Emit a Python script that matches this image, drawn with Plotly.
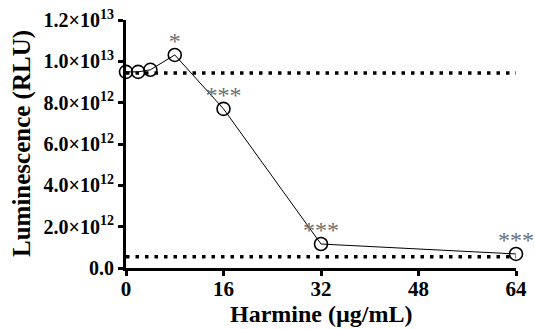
import plotly.graph_objects as go

conc = [0, 2, 4, 8, 16, 32, 64]
lum = [9.49e12, 9.49e12, 9.59e12, 10.31e12, 7.70e12, 1.16e12, 0.68e12]
sig = ["", "", "", "*", "***", "***", "***"]
upper_ref = 9.44e12
lower_ref = 0.55e12
x_ticks = [0, 16, 32, 48, 64]
y_ticks = [0, 2e12, 4e12, 6e12, 8e12, 1e13, 1.2e13]
y_labels = ["0.0", "2.0×10<sup>12</sup>", "4.0×10<sup>12</sup>", "6.0×10<sup>12</sup>",
            "8.0×10<sup>12</sup>", "1.0×10<sup>13</sup>", "1.2×10<sup>13</sup>"]
x_title = "Harmine (µg/mL)"
y_title = "Luminescence (RLU)"

font = "Liberation Serif"
fig = go.Figure()
for yv in [upper_ref, lower_ref]:
    fig.add_trace(go.Scatter(x=[0, 64], y=[yv, yv], mode="lines",
                             line=dict(color="black", width=3.5, dash="3.5px,6px"),
                             hoverinfo="skip", showlegend=False, cliponaxis=False))
fig.add_trace(go.Scatter(x=conc, y=lum, mode="lines+markers",
                         line=dict(color="black", width=1),
                         marker=dict(symbol="circle-open", size=13, color="black",
                                     line=dict(width=1.6)),
                         showlegend=False, cliponaxis=False))
fig.add_trace(go.Scatter(x=conc, y=lum, mode="text", text=sig,
                         textposition="top center",
                         textfont=dict(family=font, size=24, color="#6e6e6e"),
                         showlegend=False, cliponaxis=False))

fig.add_annotation(text="<b>%s</b>" % x_title, xref="paper", yref="paper", x=0.5, y=0,
                   yshift=-46, xanchor="center", yanchor="middle", showarrow=False,
                   font=dict(family=font, size=24, color="black"))
fig.add_annotation(text="<b>%s</b>" % y_title, xref="paper", yref="paper", x=0, y=0.5,
                   xshift=-104, xanchor="center", yanchor="middle", showarrow=False,
                   textangle=-90, font=dict(family=font, size=25, color="black"))

fig.update_layout(
    width=535, height=329, margin=dict(l=126, r=19, t=20, b=61),
    plot_bgcolor="white", paper_bgcolor="white",
    font=dict(family=font, color="black"),
    xaxis=dict(range=[0, 64], tickvals=x_ticks, ticktext=["<b>%d</b>" % v for v in x_ticks],
               automargin=False, ticklabelstandoff=-5,
               showgrid=False, zeroline=False, showline=True, linecolor="black",
               linewidth=3, ticks="outside", ticklen=5, tickwidth=3, tickcolor="black",
               tickfont=dict(family=font, size=21, color="black")),
    yaxis=dict(range=[0, 1.2e13], tickvals=y_ticks, ticktext=["<b>" + t + "</b>" for t in y_labels],
               automargin=False,
               showgrid=False, zeroline=False, showline=True, linecolor="black",
               linewidth=3, ticks="outside", ticklen=5, tickwidth=3, tickcolor="black",
               tickfont=dict(family=font, size=20, color="black")),
)
fig.write_html("out.html")
